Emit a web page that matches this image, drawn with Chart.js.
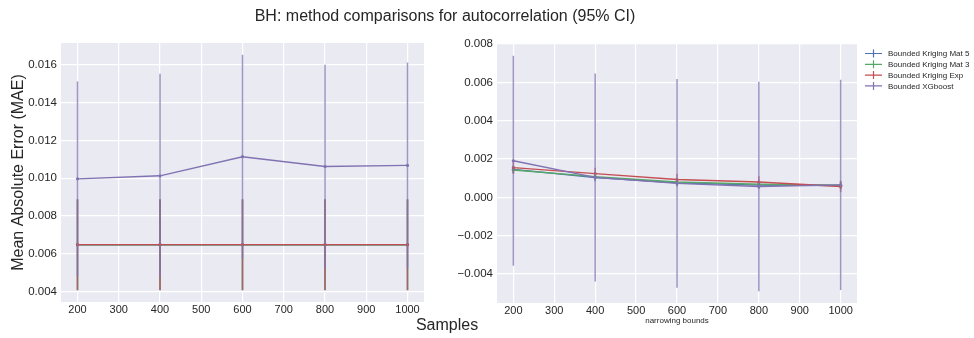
<!DOCTYPE html>
<html>
<head>
<meta charset="utf-8">
<script src="https://cdn.jsdelivr.net/npm/chart.js@4.4.0/dist/chart.umd.min.js"></script>
<style>
  body { margin: 0; background: #fff; }
  #wrap { position: relative; width: 974px; height: 338px; font-family: "Liberation Sans", Arial, sans-serif; color: #262626; }
  #leftBox { position: absolute; left: 0; top: 0; width: 440px; height: 338px; }
  #rightBox { position: absolute; left: 440px; top: 0; width: 534px; height: 338px; }
  #title { position: absolute; left: 0; width: 890px; top: 7px; text-align: center; font-size: 16px; }
  #xlabel { position: absolute; left: 347px; width: 200px; top: 316px; text-align: center; font-size: 16px; }
</style>
</head>
<body>
<div id="wrap">
  <div id="leftBox"><canvas id="leftChart"></canvas></div>
  <div id="rightBox"><canvas id="rightChart"></canvas></div>
  <div id="title">BH: method comparisons for autocorrelation (95% CI)</div>
  <div id="xlabel">Samples</div>
</div>
<script>
// sample sizes on the x axis
const samples = [200, 400, 600, 800, 1000];
const xTicks = [200, 300, 400, 500, 600, 700, 800, 900, 1000];
const leftYTicks = [0.004, 0.006, 0.008, 0.010, 0.012, 0.014, 0.016];
const rightYTicks = [-0.004, -0.002, 0.000, 0.002, 0.004, 0.006, 0.008];

const seriesNames = ['Bounded Kriging Mat 5', 'Bounded Kriging Mat 3', 'Bounded Kriging Exp', 'Bounded XGboost'];
const seriesColors = ['#4C72B0', '#55A868', '#C44E52', '#8172B2'];

// left panel: mean MAE and half width of the 95% CI
const leftMat5 = [0.00648, 0.00648, 0.00648, 0.00648, 0.00648];
const leftMat5Err = [0.0024, 0.0024, 0.0024, 0.0024, 0.0024];
const leftMat3 = [0.00648, 0.00648, 0.00648, 0.00648, 0.00648];
const leftMat3Err = [0.0024, 0.0024, 0.0024, 0.0024, 0.0024];
const leftExp = [0.00649, 0.00649, 0.00649, 0.00649, 0.00649];
const leftExpErr = [0.0024, 0.0024, 0.0024, 0.0024, 0.0024];
const leftXgb = [0.00997, 0.01013, 0.01114, 0.01062, 0.01068];
const leftXgbErr = [0.00515, 0.00539, 0.00539, 0.00538, 0.00544];

// right panel: narrowing bounds
const rightMat5 = [0.00146, 0.00104, 0.00076, 0.00064, 0.00062];
const rightMat5Err = [0.0002, 0.0002, 0.0002, 0.0002, 0.0002];
const rightMat3 = [0.00143, 0.00108, 0.00080, 0.00068, 0.00063];
const rightMat3Err = [0.0002, 0.0002, 0.0002, 0.0002, 0.0002];
const rightExp = [0.00155, 0.00124, 0.00093, 0.00080, 0.00057];
const rightExpErr = [0.0003, 0.0003, 0.0003, 0.0003, 0.0003];
const rightXgb = [0.00191, 0.00104, 0.00073, 0.00057, 0.00065];
const rightXgbErr = [0.00548, 0.00543, 0.00545, 0.00547, 0.00549];

const FONT = '"Liberation Sans", Arial, sans-serif';
const TEXT = '#262626';

function makeDatasets(means, errs) {
    return means.map((m, i) => ({
        label: seriesNames[i],
        data: samples.map((x, j) => ({ x: x, y: m[j] })),
        err: errs[i],
        borderColor: seriesColors[i],
        backgroundColor: seriesColors[i],
        borderWidth: 1.4,
        pointRadius: 1.6,
        pointBorderWidth: 0,
        order: means.length - i
    }));
}

// matplotlib-like 5% margins around the error bars
function yLimits(means, errs) {
    let lo = Infinity, hi = -Infinity;
    means.forEach((m, i) => m.forEach((v, j) => {
        lo = Math.min(lo, v - errs[i][j]);
        hi = Math.max(hi, v + errs[i][j]);
    }));
    const pad = (hi - lo) * 0.05;
    return [lo - pad, hi + pad];
}

const bgPlugin = {
    id: 'bg',
    beforeDraw(chart) {
        const a = chart.chartArea, ctx = chart.ctx;
        ctx.save();
        ctx.fillStyle = '#EAEAF2';
        ctx.fillRect(a.left, a.top, a.right - a.left, a.bottom - a.top);
        ctx.restore();
    }
};

const errPlugin = {
    id: 'errbars',
    beforeDatasetDraw(chart, args) {
        const ds = chart.data.datasets[args.index];
        const xs = chart.scales.x, ys = chart.scales.y, a = chart.chartArea;
        const ctx = chart.ctx;
        ctx.save();
        ctx.beginPath();
        ctx.rect(a.left, a.top, a.right - a.left, a.bottom - a.top);
        ctx.clip();
        ctx.strokeStyle = ds.borderColor;
        ctx.globalAlpha = 0.75;
        ctx.lineWidth = 1.5;
        ds.data.forEach((p, j) => {
            const px = xs.getPixelForValue(p.x);
            ctx.beginPath();
            ctx.moveTo(px, ys.getPixelForValue(p.y - ds.err[j]));
            ctx.lineTo(px, ys.getPixelForValue(p.y + ds.err[j]));
            ctx.stroke();
        });
        ctx.restore();
    }
};

const legendPlugin = {
    id: 'sideLegend',
    afterDraw(chart) {
        const ctx = chart.ctx;
        ctx.save();
        ctx.font = '8px ' + FONT;
        ctx.textBaseline = 'middle';
        seriesNames.forEach((name, i) => {
            const y = 53.5 + i * 10.8;
            ctx.strokeStyle = seriesColors[i];
            ctx.lineWidth = 1.2;
            ctx.beginPath();
            ctx.moveTo(425, y); ctx.lineTo(442, y);
            ctx.moveTo(433.5, y - 4); ctx.lineTo(433.5, y + 4);
            ctx.stroke();
            ctx.fillStyle = TEXT;
            ctx.fillText(name, 448, y + 0.5);
        });
        ctx.restore();
    }
};

function buildChart(id, means, errs, opts) {
    const lim = yLimits(means, errs);
    return new Chart(document.getElementById(id), {
        type: 'line',
        data: { datasets: makeDatasets(means, errs) },
        options: {
            responsive: true,
            maintainAspectRatio: false,
            animation: false,
            layout: { padding: opts.padding },
            plugins: { legend: { display: false }, tooltip: { enabled: false } },
            scales: {
                x: {
                    type: 'linear',
                    min: 160,
                    max: 1040,
                    afterBuildTicks: s => { s.ticks = xTicks.map(v => ({ value: v })); },
                    afterFit: s => { s.height = opts.xHeight; },
                    grid: { color: '#ffffff', lineWidth: 1.2, drawTicks: false },
                    border: { display: false },
                    ticks: {
                        color: TEXT,
                        font: { family: FONT, size: 11 },
                        padding: 1,
                        maxRotation: 0,
                        callback: v => String(v)
                    },
                    title: opts.xTitle
                },
                y: {
                    min: lim[0],
                    max: lim[1],
                    afterBuildTicks: s => { s.ticks = opts.yTicks.map(v => ({ value: v })); },
                    afterFit: s => { s.width = opts.yWidth; },
                    grid: { color: '#ffffff', lineWidth: 1.2, drawTicks: false },
                    border: { display: false },
                    ticks: {
                        color: TEXT,
                        font: { family: FONT, size: 11.5 },
                        padding: 4,
                        callback: v => v.toFixed(3).replace('-', '\u2212')
                    },
                    title: opts.yTitle
                }
            }
        },
        plugins: opts.plugins
    });
}

buildChart('leftChart',
    [leftMat5, leftMat3, leftExp, leftXgb],
    [leftMat5Err, leftMat3Err, leftExpErr, leftXgbErr],
    {
        padding: { top: 43, right: 16, left: 0, bottom: 0 },
        xHeight: 36,
        yWidth: 61,
        yTicks: leftYTicks,
        xTitle: { display: false },
        yTitle: {
            display: true,
            text: 'Mean Absolute Error (MAE)',
            color: TEXT,
            font: { family: FONT, size: 16 },
            padding: { top: 9, bottom: 0 }
        },
        plugins: [bgPlugin, errPlugin]
    });

buildChart('rightChart',
    [rightMat5, rightMat3, rightExp, rightXgb],
    [rightMat5Err, rightMat3Err, rightExpErr, rightXgbErr],
    {
        padding: { top: 44, right: 117, left: 0, bottom: 0 },
        xHeight: 35,
        yWidth: 57,
        yTicks: rightYTicks,
        xTitle: {
            display: true,
            text: 'narrowing bounds',
            color: TEXT,
            font: { family: FONT, size: 8 },
            padding: { top: 0, bottom: 12 }
        },
        yTitle: { display: false },
        plugins: [bgPlugin, errPlugin, legendPlugin]
    });
</script>
</body>
</html>
